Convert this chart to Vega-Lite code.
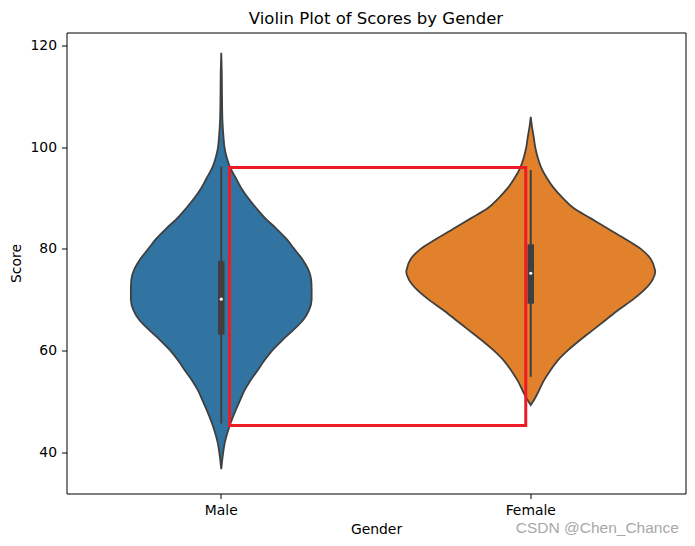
{
  "$schema": "https://vega.github.io/schema/vega-lite/v6.json",
  "width": 619,
  "height": 461,
  "autosize": {"type": "none"},
  "padding": {"left": 66.5, "top": 32.5, "right": 9.5, "bottom": 52.5},
  "background": "white",
  "title": {"text": "Violin Plot of Scores by Gender", "fontSize": 16.5, "fontWeight": "normal", "font": "DejaVu Sans", "color": "black", "anchor": "middle", "frame": "group", "baseline": "alphabetic", "offset": -7.5},
  "config": {
    "view": {"stroke": "black", "strokeWidth": 1},
    "font": "DejaVu Sans"
  },
  "datasets": {
    "male": [
      {"score": 118.6, "density": 0},
      {"score": 115, "density": 0.0002},
      {"score": 110, "density": 0.0003},
      {"score": 105, "density": 0.0005},
      {"score": 102, "density": 0.0009},
      {"score": 100, "density": 0.0013},
      {"score": 98, "density": 0.0022},
      {"score": 96, "density": 0.0036},
      {"score": 94, "density": 0.0058},
      {"score": 92, "density": 0.0080},
      {"score": 90, "density": 0.0108},
      {"score": 88, "density": 0.0141},
      {"score": 86, "density": 0.0177},
      {"score": 84, "density": 0.0221},
      {"score": 82, "density": 0.0261},
      {"score": 80, "density": 0.0293},
      {"score": 78, "density": 0.0325},
      {"score": 76, "density": 0.0349},
      {"score": 74, "density": 0.0361},
      {"score": 72, "density": 0.0363},
      {"score": 70, "density": 0.0363},
      {"score": 68, "density": 0.0353},
      {"score": 66, "density": 0.0329},
      {"score": 64, "density": 0.0289},
      {"score": 62, "density": 0.0245},
      {"score": 60, "density": 0.0205},
      {"score": 58, "density": 0.0173},
      {"score": 56, "density": 0.0145},
      {"score": 54, "density": 0.0116},
      {"score": 52, "density": 0.0092},
      {"score": 50, "density": 0.0074},
      {"score": 48, "density": 0.0056},
      {"score": 46, "density": 0.0040},
      {"score": 44, "density": 0.0026},
      {"score": 42, "density": 0.0015},
      {"score": 40, "density": 0.0008},
      {"score": 38, "density": 0.0003},
      {"score": 36.6, "density": 0}
    ],
    "female": [
      {"score": 106, "density": 0},
      {"score": 104, "density": 0.0005},
      {"score": 102, "density": 0.0012},
      {"score": 100, "density": 0.0018},
      {"score": 98, "density": 0.0028},
      {"score": 96, "density": 0.0042},
      {"score": 94, "density": 0.0064},
      {"score": 92, "density": 0.0092},
      {"score": 90, "density": 0.0129},
      {"score": 88, "density": 0.0173},
      {"score": 86, "density": 0.0241},
      {"score": 84, "density": 0.0309},
      {"score": 82, "density": 0.0378},
      {"score": 80, "density": 0.0442},
      {"score": 78, "density": 0.0482},
      {"score": 76, "density": 0.0498},
      {"score": 75.5, "density": 0.0500},
      {"score": 74, "density": 0.0490},
      {"score": 72, "density": 0.0458},
      {"score": 70, "density": 0.0410},
      {"score": 68, "density": 0.0353},
      {"score": 66, "density": 0.0301},
      {"score": 64, "density": 0.0249},
      {"score": 62, "density": 0.0197},
      {"score": 60, "density": 0.0149},
      {"score": 58, "density": 0.0108},
      {"score": 56, "density": 0.0078},
      {"score": 54, "density": 0.0052},
      {"score": 52, "density": 0.0032},
      {"score": 50.5, "density": 0.0016},
      {"score": 49.25, "density": 0}
    ],
    "box": [
      {"gender": "Male", "lo": 45.6, "q1": 63.1, "median": 70.1, "q3": 77.6, "hi": 96.2},
      {"gender": "Female", "lo": 54.8, "q1": 69.2, "median": 75.2, "q3": 80.9, "hi": 95.5}
    ],
    "note": [
      {"lo": 45.2, "hi": 96.0, "label": "CSDN @Chen_Chance", "labelScore": 24.05}
    ]
  },
  "resolve": {"scale": {"x": "independent"}, "axis": {"x": "independent"}},
  "layer": [
    {
      "data": {"name": "male"},
      "mark": {"type": "area", "orient": "horizontal", "interpolate": "monotone", "fill": "#3274a1", "stroke": "#3f3f3f", "strokeWidth": 1.8},
      "encoding": {
        "x": {"field": "density", "type": "quantitative", "stack": "center", "scale": {"domain": [-0.012924, 0.111373], "nice": false, "zero": false}, "axis": null},
        "y": {"field": "score", "type": "quantitative", "scale": {"domain": [31.83, 122.6], "nice": false, "zero": false},
              "axis": {"values": [40, 60, 80, 100, 120], "title": "Score", "grid": false, "domain": false, "tickSize": 5, "tickWidth": 1, "tickColor": "black", "labelPadding": 5, "labelFontSize": 13.9, "labelColor": "black", "labelFont": "DejaVu Sans", "titleFont": "DejaVu Sans", "titleFontSize": 13.9, "titleFontWeight": "normal", "titleColor": "black", "titlePadding": 6}}
      }
    },
    {
      "data": {"name": "female"},
      "mark": {"type": "area", "orient": "horizontal", "interpolate": "monotone", "fill": "#e1812c", "stroke": "#3f3f3f", "strokeWidth": 1.8},
      "encoding": {
        "x": {"field": "density", "type": "quantitative", "stack": "center", "scale": {"domain": [-0.068223, 0.056074], "nice": false, "zero": false}, "axis": null},
        "y": {"field": "score", "type": "quantitative"}
      }
    },
    {
      "layer": [
        {
          "data": {"name": "box"},
          "mark": {"type": "rule", "color": "#3f3f3f", "strokeWidth": 2},
          "encoding": {
            "x": {"field": "gender", "type": "nominal", "sort": ["Male", "Female"],
                  "axis": {"orient": "bottom", "title": "Gender", "labelAngle": 0, "grid": false, "domain": false, "tickSize": 5, "tickWidth": 1, "tickColor": "black", "labelPadding": 5, "labelFontSize": 13.9, "labelColor": "black", "labelFont": "DejaVu Sans", "titleFont": "DejaVu Sans", "titleFontSize": 13.9, "titleFontWeight": "normal", "titleColor": "black", "titlePadding": 5}},
            "y": {"field": "lo", "type": "quantitative"},
            "y2": {"field": "hi"}
          }
        },
        {
          "data": {"name": "box"},
          "mark": {"type": "rule", "color": "#3f3f3f", "strokeWidth": 6.5},
          "encoding": {
            "x": {"field": "gender", "type": "nominal", "sort": ["Male", "Female"]},
            "y": {"field": "q1", "type": "quantitative"},
            "y2": {"field": "q3"}
          }
        },
        {
          "data": {"name": "box"},
          "mark": {"type": "point", "filled": true, "color": "white", "opacity": 1, "size": 10, "strokeWidth": 0},
          "encoding": {
            "x": {"field": "gender", "type": "nominal", "sort": ["Male", "Female"]},
            "y": {"field": "median", "type": "quantitative"}
          }
        },
        {
          "data": {"name": "note"},
          "mark": {"type": "rect", "fill": null, "fillOpacity": 0, "stroke": "#ed1c24", "strokeWidth": 3, "xOffset": 8.25, "x2Offset": -5},
          "encoding": {
            "x": {"datum": "Male"},
            "x2": {"datum": "Female"},
            "y": {"field": "lo", "type": "quantitative"},
            "y2": {"field": "hi"}
          }
        },
        {
          "data": {"name": "note"},
          "mark": {"type": "text", "align": "left", "baseline": "alphabetic", "dx": -15, "font": "Liberation Sans", "fontSize": 15.5, "color": "#a8a8a8"},
          "encoding": {
            "x": {"datum": "Female"},
            "y": {"field": "labelScore", "type": "quantitative"},
            "text": {"field": "label"}
          }
        }
      ]
    }
  ]
}
